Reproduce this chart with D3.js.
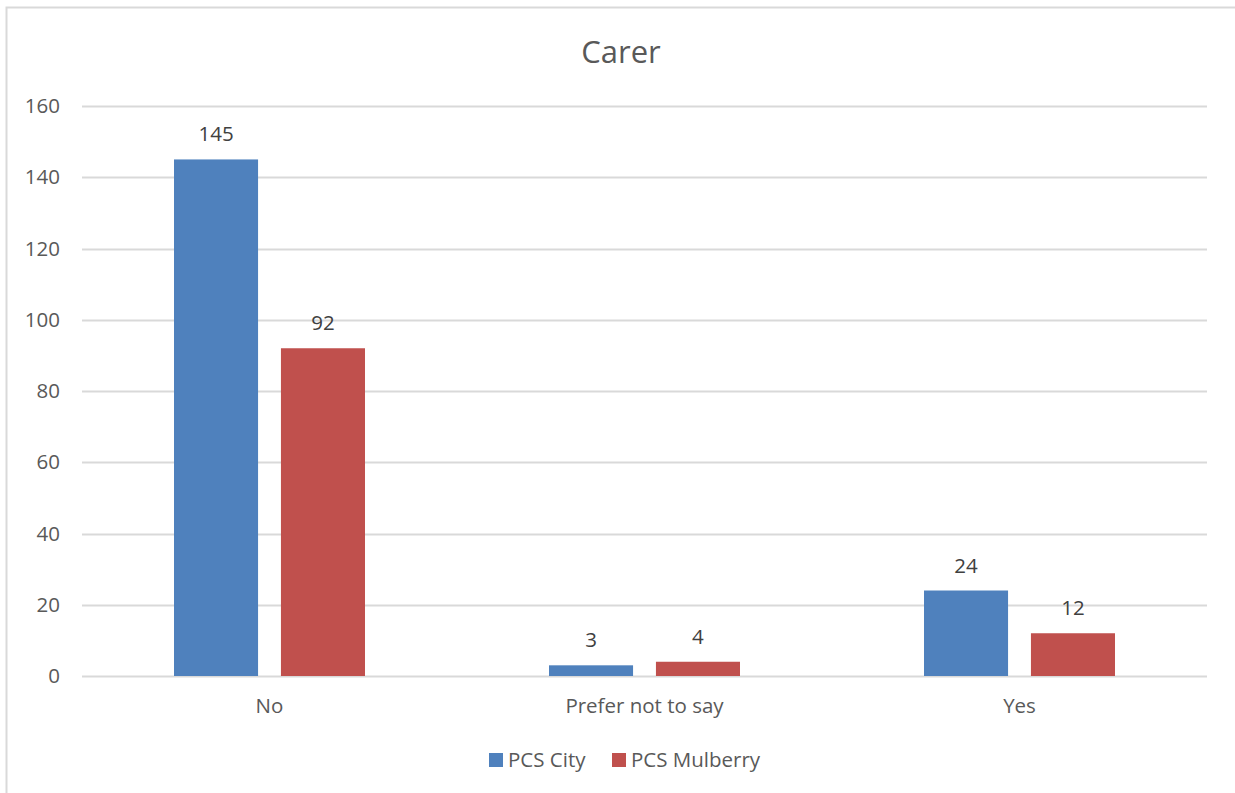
<!DOCTYPE html>
<html><head><meta charset="utf-8">
<script src="https://cdn.jsdelivr.net/npm/d3@7"></script>
<style>
html,body{margin:0;padding:0;background:#fff;}
svg{display:block;font-family:"Open Sans","Noto Sans",sans-serif;}
</style></head>
<body>
<svg id="chart" width="1235" height="793"></svg>
<script>
const title = "Carer";
const categories = ["No", "Prefer not to say", "Yes"];
const seriesNames = ["PCS City", "PCS Mulberry"];
const cityValues = [145, 3, 24];
const mulberryValues = [92, 4, 12];
const yTicks = [0, 20, 40, 60, 80, 100, 120, 140, 160];
const colors = ["#4F81BD", "#C0504D"];

(function () {
const svg = d3.select("#chart");
const textColor = "#595959";
const gridColor = "#D9D9D9";
const fs = 20.5;

// chart border
svg.append("rect").attr("x", 6.5).attr("y", 7.5).attr("width", 1240).attr("height", 800)
  .attr("fill", "#fff").attr("stroke", gridColor).attr("stroke-width", 2);

const pLeft = 82, pRight = 1207, pTop = 106, pBottom = 676;

const x = d3.scaleBand().domain(categories).range([pLeft, pRight]).paddingInner(0).paddingOuter(0);
const y = d3.scaleLinear().domain([0, 160]).range([pBottom, pTop]);
const inner = d3.scaleBand().domain(seriesNames).range([92, 92 + 191]).paddingInner(23 / 107.5).paddingOuter(0);

// grid
svg.append("g").selectAll("line").data(yTicks).join("line")
  .attr("x1", pLeft).attr("x2", pRight)
  .attr("y1", d => Math.round(y(d)) + 0.5).attr("y2", d => Math.round(y(d)) + 0.5)
  .attr("stroke", gridColor).attr("stroke-width", 2);

// y axis labels
const yAxis = d3.axisLeft(y).tickValues(yTicks).tickSize(0).tickPadding(0);
const gy = svg.append("g").attr("transform", `translate(60,0)`).call(yAxis);
gy.select(".domain").remove();
gy.selectAll("text").attr("fill", textColor).attr("font-size", fs)
  .attr("font-family", "'Open Sans','Noto Sans',sans-serif");

// x axis labels
const xAxis = d3.axisBottom(x).tickSize(0).tickPadding(0);
const gx = svg.append("g").attr("transform", `translate(0,${pBottom + 22})`).call(xAxis);
gx.select(".domain").remove();
gx.selectAll("text").attr("fill", textColor).attr("font-size", fs)
  .attr("font-family", "'Open Sans','Noto Sans',sans-serif");

// bars
const series = [cityValues, mulberryValues];
series.forEach((vals, si) => {
  const g = svg.append("g");
  g.selectAll("rect").data(categories).join("rect")
    .attr("x", c => x(c) + inner(seriesNames[si]))
    .attr("width", inner.bandwidth())
    .attr("y", (c, i) => y(vals[i]))
    .attr("height", (c, i) => y(0) - y(vals[i]))
    .attr("fill", colors[si]);
  g.selectAll("text").data(categories).join("text")
    .attr("x", c => x(c) + inner(seriesNames[si]) + inner.bandwidth() / 2)
    .attr("y", (c, i) => y(vals[i]) - 18)
    .attr("text-anchor", "middle")
    .attr("fill", "#404040").attr("font-size", fs)
    .text((c, i) => vals[i]);
});

// title
svg.append("text").attr("x", 621).attr("y", 63).attr("text-anchor", "middle")
  .attr("fill", textColor).attr("font-size", 31).text(title);

// legend
const legendItems = [{name: seriesNames[0], x: 489}, {name: seriesNames[1], x: 612}];
legendItems.forEach((it, i) => {
  svg.append("rect").attr("x", it.x).attr("y", 753).attr("width", 14).attr("height", 14).attr("fill", colors[i]);
  svg.append("text").attr("x", it.x + 19).attr("y", 767).attr("fill", textColor)
    .attr("font-size", fs).text(it.name);
});
})();
</script>
</body></html>
